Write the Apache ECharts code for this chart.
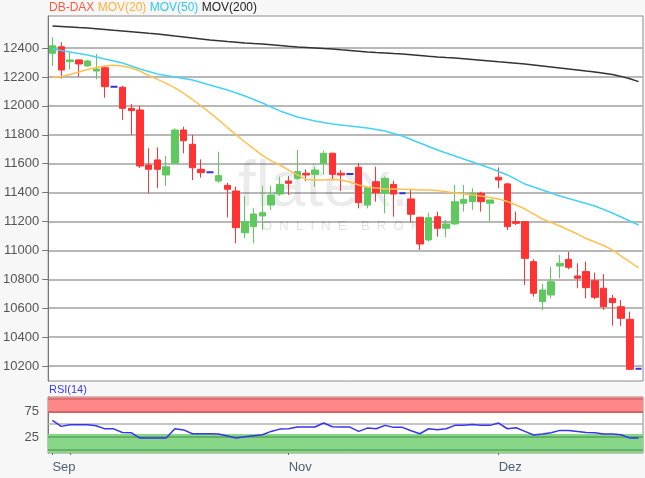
<!DOCTYPE html>
<html><head><meta charset="utf-8">
<script src="https://cdn.jsdelivr.net/npm/echarts@6/dist/echarts.min.js"></script>
<style>html,body{margin:0;padding:0;background:#f7f7f7;}#c{width:645px;height:478px;}</style>
</head><body><div id="c"></div>
<script>
const categories = ['1','2','3','4','5','6','7','8','9','10','11','12','13','14','15','16','17','18','19','20',
'21','22','23','24','25','26','27','28','29','30','31','32','33','34','35','36','37','38','39','40',
'41','42','43','44','45','46','47','48','49','50','51','52','53','54','55','56','57','58','59','60',
'61','62','63','64','65','66','67','68'];
const xTickIndices = [0, 2, 27, 51];
const xTickLabels = {0: 'Sep', 27: 'Nov', 51: 'Dez'};
const yTicks = [10200,10400,10600,10800,11000,11200,11400,11600,11800,12000,12200,12400];
const rsiTicks = [25, 75];

const opens = [12364,12409,12306,12318,12276,12241,12264,12133,12129,11983,
11972,11591,11626,11522,11603,11833,11734,11561,11540,11480,
11450,11411,11122,11164,11238,11314,11390,11480,11499,11533,
11526,11603,11672,11533,11529,11575,11314,11475,11395,11457,
11395,11356,11229,11072,11233,11153,11183,11326,11337,11395,
11326,11506,11460,11199,11199,10922,10645,10691,10892,10938,
10823,10853,10790,10738,10668,10610,10523,10180];
const closes = [12416,12248,12318,12290,12311,12255,12133,12133,11983,11967,
11584,11561,11561,11579,11833,11759,11572,11538,11540,11517,
11423,11157,11199,11252,11261,11383,11457,11464,11545,11522,
11556,11672,11526,11522,11529,11330,11434,11399,11499,11390,
11395,11250,11044,11226,11153,11183,11337,11353,11395,11337,
11349,11487,11164,11187,10945,10703,10726,10783,10911,10883,
10807,10742,10675,10610,10638,10530,10177,10180];
const lows = [12276,12191,12253,12202,12272,12184,12057,12133,11902,11799,
11570,11395,11430,11446,11598,11672,11487,11503,11540,11468,
11229,11049,11084,11049,11141,11280,11376,11383,11487,11480,
11441,11522,11487,11411,11529,11291,11291,11337,11257,11233,
11395,11192,11003,11060,11095,11091,11176,11268,11280,11268,
11199,11430,11141,11176,10761,10680,10588,10668,10807,10869,
10738,10668,10662,10588,10479,10477,10172,10180];
const highs = [12475,12440,12368,12322,12318,12359,12278,12133,12138,12013,
11999,11707,11713,11653,11845,11856,11799,11630,11540,11683,
11468,11441,11376,11291,11446,11446,11510,11515,11695,11561,
11579,11690,11676,11556,11529,11603,11441,11579,11510,11482,
11395,11423,11233,11261,11267,11210,11453,11453,11430,11406,
11349,11575,11468,11268,11199,10938,10767,10887,10968,10991,
10911,10922,10846,10837,10691,10657,10576,10180];
const flatDays = [7, 18, 34, 40, 67];

const ma20 = [12198,12203,12217,12235,12252,12266,12276,12281,12276,12262,
12241,12210,12183,12156,12124,12086,12044,11999,11951,11902,
11850,11799,11750,11702,11657,11619,11591,11556,11522,11491,
11487,11487,11491,11487,11473,11453,11439,11432,11425,11425,
11423,11421,11418,11418,11414,11406,11397,11390,11383,11376,
11366,11356,11338,11314,11286,11252,11217,11193,11169,11141,
11113,11082,11058,11034,11003,10961,10920,10878];
const ma50 = [12394,12383,12373,12363,12352,12338,12324,12311,12297,12276,
12255,12238,12221,12210,12200,12190,12179,12162,12145,12127,
12110,12089,12068,12044,12020,11992,11965,11944,11923,11909,
11895,11885,11875,11868,11861,11854,11847,11837,11826,11809,
11792,11767,11743,11719,11695,11674,11653,11632,11612,11591,
11570,11546,11522,11491,11459,11439,11418,11397,11376,11359,
11342,11325,11307,11283,11259,11231,11203,11176];
const ma200 = [12553,12550,12546,12542,12539,12534,12529,12523,12518,12513,
12508,12502,12497,12490,12483,12477,12470,12463,12456,12451,
12445,12440,12435,12431,12428,12423,12418,12412,12407,12404,
12401,12397,12394,12388,12383,12378,12373,12369,12366,12362,
12359,12354,12349,12343,12338,12334,12331,12326,12321,12316,
12311,12305,12300,12295,12290,12283,12276,12269,12262,12255,
12248,12241,12235,12226,12217,12204,12188,12168];
const rsi = [57.5,45.8,49,49,49,47,41,41,34,33.5,
23,23,23,23,41,39,31.5,31.5,31.5,31,
27,23,25.5,27.5,29.5,36,40.5,41.2,44.5,44.5,
44.5,52.3,45,44.5,44.5,36,42.5,41.2,47.8,43.9,
43.9,37.3,31.5,41.2,39.3,41.2,47.8,47.8,49.7,47.8,
47.8,52.3,41.2,43.2,36,29,31,33.5,38,38,
36,34,33.5,31,31,29.5,23,23];

const FONT = '"Liberation Sans", Arial, sans-serif';
const BLUE = '#3434d4';
const candleData = opens.map((o, i) => {
  const item = {value: [o, closes[i], lows[i], highs[i]]};
  if (flatDays.includes(i)) {
    item.itemStyle = {color: BLUE, color0: BLUE, borderColor: BLUE, borderColor0: BLUE, borderWidth: 2};
  }
  return item;
});

const chart = echarts.init(document.getElementById('c'), null, {renderer: 'canvas'});
chart.setOption({
  backgroundColor: '#f7f7f7',
  animation: false,
  textStyle: {fontFamily: FONT},
  title: [
    {left: 47, top: 0, padding: [2, 2],
     text: '{a|DB-DAX} {b|MOV(20)} {c|MOV(50)} {d|MOV(200)}',
     textStyle: {fontSize: 12, fontWeight: 'normal', fontFamily: FONT, rich: {
       a: {color: '#ff5b3f', fontSize: 12, fontFamily: FONT},
       b: {color: '#ffb13a', fontSize: 12, fontFamily: FONT},
       c: {color: '#2fc8f5', fontSize: 12, fontFamily: FONT},
       d: {color: '#222222', fontSize: 12, fontFamily: FONT}}}},
    {left: 47, top: 382, padding: [2, 2], text: 'RSI(14)',
     textStyle: {color: '#3a3aee', fontSize: 11, fontWeight: 'normal', fontFamily: FONT}}
  ],
  graphic: [
    {type: 'text', left: 238, top: 156, z: 1, silent: true,
     style: {text: 'flatex.', font: 'normal 64px "Liberation Sans", Arial, sans-serif', fill: 'rgba(0,0,0,0.08)'}},
    {type: 'text', left: 262, top: 220, z: 1, silent: true,
     style: {text: 'O  N  L  I  N  E    B  R  O  K  E  R', font: 'normal 13px "Liberation Sans", Arial, sans-serif', fill: 'rgba(0,0,0,0.12)'}}
  ],
  grid: [
    {left: 48, right: 2, top: 16, bottom: 97, show: true, backgroundColor: '#ffffff', borderColor: '#8c8c8c', borderWidth: 1},
    {left: 48, right: 2, top: 397, bottom: 25, show: true, backgroundColor: '#ffffff', borderColor: '#8c8c8c', borderWidth: 1}
  ],
  xAxis: [
    {type: 'category', gridIndex: 0, data: categories, boundaryGap: true,
     axisLine: {show: false}, axisTick: {show: false}, axisLabel: {show: false}, splitLine: {show: false}},
    {type: 'category', gridIndex: 1, data: categories, boundaryGap: true,
     axisLine: {show: false},
     axisTick: {show: true, alignWithLabel: true, length: 5, interval: (i) => xTickIndices.includes(i), lineStyle: {color: '#55657a'}},
     axisLabel: {show: true, interval: (i) => xTickLabels[i] !== undefined, formatter: (v, i) => xTickLabels[i] || '',
       align: 'left', color: '#4e5e70', fontSize: 13, margin: 8, fontFamily: FONT},
     splitLine: {show: false}}
  ],
  yAxis: [
    {type: 'value', gridIndex: 0, min: 10096, max: 12622, position: 'left', scale: true,
     axisLine: {show: true, lineStyle: {color: '#777'}},
     axisTick: {show: true, customValues: yTicks, length: 6, lineStyle: {color: '#777'}},
     axisLabel: {customValues: yTicks, formatter: (v) => String(v), color: '#555', fontSize: 13, margin: 9, fontFamily: FONT},
     splitLine: {show: true, lineStyle: {color: '#b8b8b8', width: 2}}},
    {type: 'value', gridIndex: 1, min: -6, max: 103, position: 'left',
     axisLine: {show: true, lineStyle: {color: '#777'}},
     axisTick: {show: false, customValues: rsiTicks},
     axisLabel: {customValues: rsiTicks, formatter: (v) => String(v), color: '#555', fontSize: 13, margin: 9, fontFamily: FONT},
     splitLine: {show: false}}
  ],
  series: [
    {type: 'candlestick', xAxisIndex: 0, yAxisIndex: 0, data: candleData, barWidth: 7, z: 3,
     itemStyle: {color: '#5fc95f', color0: '#ff3333', borderColor: '#5fc95f', borderColor0: '#ff3333', borderWidth: 1}},
    {type: 'line', name: 'MOV(200)', xAxisIndex: 0, yAxisIndex: 0, data: ma200, showSymbol: false, z: 4,
     lineStyle: {color: '#333333', width: 1.5}},
    {type: 'line', name: 'MOV(50)', xAxisIndex: 0, yAxisIndex: 0, data: ma50, showSymbol: false, z: 4,
     lineStyle: {color: '#45d2f5', width: 1.5}},
    {type: 'line', name: 'MOV(20)', xAxisIndex: 0, yAxisIndex: 0, data: ma20, showSymbol: false, z: 4,
     lineStyle: {color: '#ffc04f', width: 1.5}},
    {type: 'line', name: 'bands', xAxisIndex: 1, yAxisIndex: 1, data: rsi, showSymbol: false, silent: true, z: 1,
     lineStyle: {width: 0, opacity: 0},
     markArea: {silent: true, data: [
       [{yAxis: 72, itemStyle: {color: '#ff8787'}}, {yAxis: 103}],
       [{yAxis: -6, itemStyle: {color: '#88d788'}}, {yAxis: 31}]
     ]},
     markLine: {silent: true, symbol: 'none', label: {show: false}, data: [
       {yAxis: 100, lineStyle: {color: '#cf6a6a', width: 1.5, type: 'solid'}},
       {yAxis: 75, lineStyle: {color: '#c45a5a', width: 1.5, type: 'solid'}},
       {yAxis: 50, lineStyle: {color: '#b0b0b0', width: 1.5, type: 'solid'}},
       {yAxis: 25, lineStyle: {color: '#5aa65a', width: 1.5, type: 'solid'}},
       {yAxis: 0, lineStyle: {color: '#5aa65a', width: 1.5, type: 'solid'}}
     ]}},
    {type: 'line', name: 'RSI(14)', xAxisIndex: 1, yAxisIndex: 1, data: rsi, showSymbol: false, z: 5,
     lineStyle: {color: '#3535ee', width: 1.5}}
  ]
});
</script></body></html>
